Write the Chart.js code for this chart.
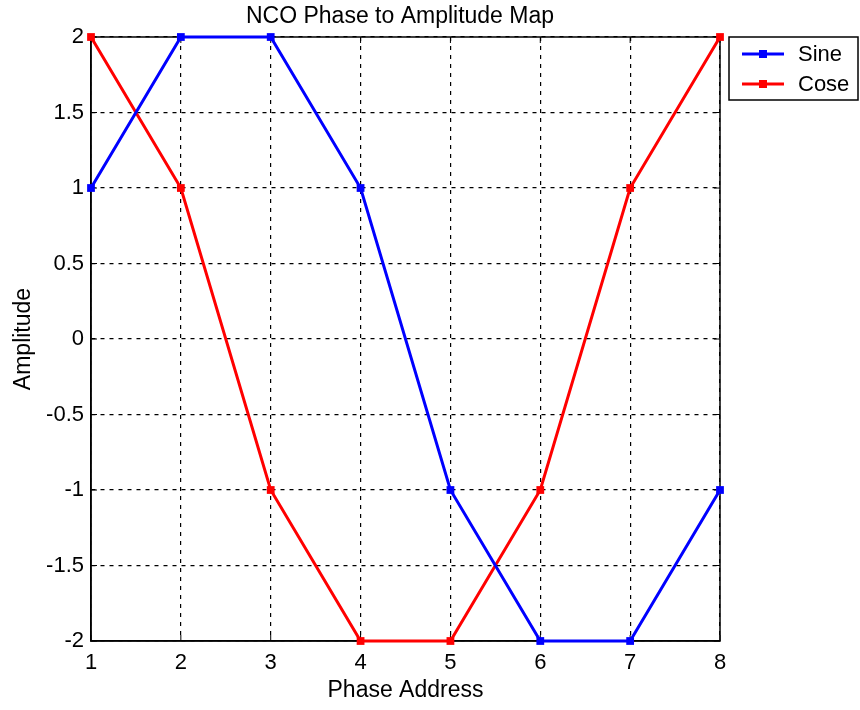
<!DOCTYPE html>
<html>
<head>
<meta charset="utf-8">
<script src="https://cdn.jsdelivr.net/npm/chart.js@4"></script>
<style>
  html, body { margin: 0; padding: 0; background: #fff; }
  #wrap { width: 860px; height: 710px; }
</style>
</head>
<body>
<div id="wrap"><canvas id="myChart" width="860" height="710"></canvas></div>
<script>
var phaseAddress = ['1', '2', '3', '4', '5', '6', '7', '8'];
var sine = [1, 2, 2, 1, -1, -2, -2, -1];
var cose = [2, 1, -1, -2, -2, -1, 1, 2];
var amplitudeTicks = [-2, -1.5, -1, -0.5, 0, 0.5, 1, 1.5, 2];

var FONT = 'Liberation Sans, Arial, sans-serif';

// box around the plot, inward tick marks, title and legend
var matlabFrame = {
    id: 'matlabFrame',
    beforeDatasetsDraw: function (chart) {
        var c = chart.ctx, a = chart.chartArea;
        var xs = chart.scales.x, ys = chart.scales.y;
        c.save();
        c.strokeStyle = '#000';
        c.lineWidth = 1.5;
        c.setLineDash([]);
        c.strokeRect(a.left, a.top, a.right - a.left, a.bottom - a.top);
        c.lineWidth = 1;
        c.beginPath();
        phaseAddress.forEach(function (v, i) {
            var px = xs.getPixelForValue(i);
            c.moveTo(px, a.bottom); c.lineTo(px, a.bottom - 6);
            c.moveTo(px, a.top); c.lineTo(px, a.top + 6);
        });
        amplitudeTicks.forEach(function (v) {
            var py = ys.getPixelForValue(v);
            c.moveTo(a.left, py); c.lineTo(a.left + 6, py);
            c.moveTo(a.right, py); c.lineTo(a.right - 6, py);
        });
        c.stroke();
        c.restore();
    },
    afterDraw: function (chart) {
        var c = chart.ctx;
        c.save();
        c.fillStyle = '#000';
        c.font = '23px ' + FONT;
        c.textAlign = 'center';
        c.textBaseline = 'alphabetic';
        c.fillText('NCO Phase to Amplitude Map', 400, 23);

        // legend
        var lx = 729, ly = 37, lw = 129, lh = 63;
        c.fillStyle = '#fff';
        c.fillRect(lx, ly, lw, lh);
        c.strokeStyle = '#000';
        c.lineWidth = 1.5;
        c.strokeRect(lx, ly, lw, lh);
        chart.data.datasets.forEach(function (ds, i) {
            var y = ly + 17 + i * 30;
            c.strokeStyle = ds.borderColor;
            c.lineWidth = 3;
            c.beginPath();
            c.moveTo(lx + 13, y); c.lineTo(lx + 55, y);
            c.stroke();
            c.fillStyle = ds.borderColor;
            c.fillRect(lx + 30, y - 4, 8, 8);
            c.fillStyle = '#000';
            c.font = '22px ' + FONT;
            c.textAlign = 'left';
            c.textBaseline = 'middle';
            c.fillText(ds.label, lx + 69, y + 1);
        });
        c.restore();
    }
};

var ctx = document.getElementById('myChart').getContext('2d');
var myChart = new Chart(ctx, {
    type: 'line',
    data: {
        labels: phaseAddress,
        datasets: [{
            label: 'Sine',
            data: sine,
            borderColor: '#0000ff',
            backgroundColor: '#0000ff',
            borderWidth: 3,
            pointStyle: 'rect',
            pointRadius: 5.5,
            pointBorderWidth: 0,
            fill: false,
            tension: 0,
            clip: false
        }, {
            label: 'Cose',
            data: cose,
            borderColor: '#ff0000',
            backgroundColor: '#ff0000',
            borderWidth: 3,
            pointStyle: 'rect',
            pointRadius: 5.5,
            pointBorderWidth: 0,
            fill: false,
            tension: 0,
            clip: false
        }]
    },
    options: {
        responsive: false,
        animation: false,
        layout: { padding: { top: 37, right: 140, left: 0, bottom: 0 } },
        plugins: {
            legend: { display: false },
            title: { display: false },
            tooltip: { enabled: false }
        },
        scales: {
            x: {
                type: 'category',
                offset: false,
                grid: {
                    color: '#000',
                    lineWidth: 1.2,
                    drawTicks: false
                },
                border: { display: true, color: '#000', width: 1.5, dash: [4, 5] },
                ticks: {
                    color: '#000',
                    padding: 9,
                    maxRotation: 0,
                    font: { family: FONT, size: 22 }
                },
                title: {
                    display: true,
                    text: 'Phase Address',
                    color: '#000',
                    padding: { top: 0, bottom: 6 },
                    font: { family: FONT, size: 23 }
                },
                afterFit: function (scale) { scale.height = 69; }
            },
            y: {
                min: -2,
                max: 2,
                afterBuildTicks: function (scale) {
                    scale.ticks = amplitudeTicks.map(function (v) { return { value: v }; });
                },
                grid: {
                    color: '#000',
                    lineWidth: 1.2,
                    drawTicks: false
                },
                border: { display: true, color: '#000', width: 1.5, dash: [4, 5] },
                ticks: {
                    color: '#000',
                    padding: 7,
                    font: { family: FONT, size: 22 },
                    callback: function (v) { return String(v); }
                },
                title: {
                    display: true,
                    text: 'Amplitude',
                    color: '#000',
                    padding: { top: 10, bottom: 0 },
                    font: { family: FONT, size: 23 }
                },
                afterFit: function (scale) { scale.width = 91; }
            }
        }
    },
    plugins: [matlabFrame]
});
</script>
</body>
</html>
